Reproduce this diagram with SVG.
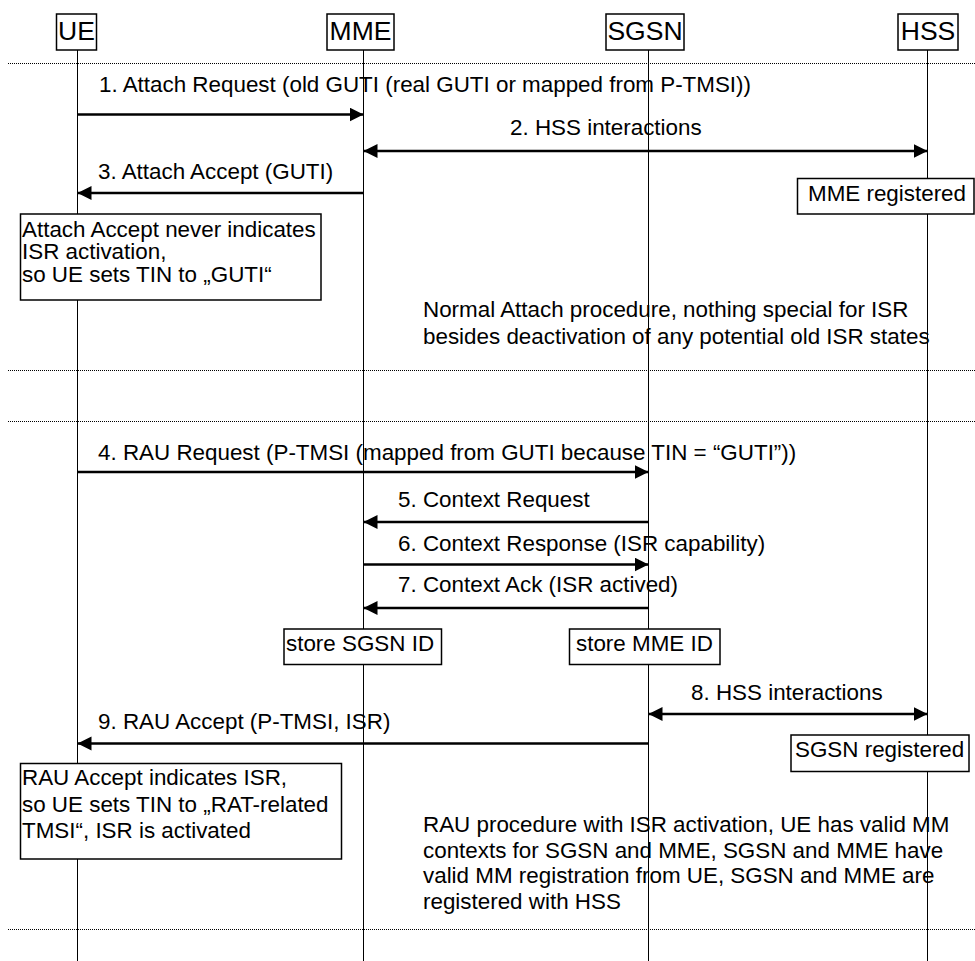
<svg xmlns="http://www.w3.org/2000/svg" width="975" height="961" viewBox="0 0 975 961">
<style>
text{font-family:"Liberation Sans",Arial,sans-serif;font-size:22.4px;fill:#000}
.hdr{font-size:26.5px;text-anchor:middle}
.box{fill:#fff;stroke:#000;stroke-width:1.5}
.life{stroke:#000;stroke-width:1}
.sep{stroke:#000;stroke-width:1;stroke-dasharray:1 1}
.msg{stroke:#000;stroke-width:2.5;fill:none}
</style>
<defs>
<marker id="ah" markerUnits="userSpaceOnUse" markerWidth="15" markerHeight="15" refX="14" refY="7" orient="auto-start-reverse" viewBox="0 0 15 15">
<path d="M0,0 L14,7 L0,14 Z" fill="#000"/>
</marker>
</defs>
<rect width="975" height="961" fill="#fff"/>
<g id="separators">
<line class="sep" x1="8" y1="63.5" x2="975" y2="63.5"/>
<line class="sep" x1="8" y1="370.5" x2="975" y2="370.5"/>
<line class="sep" x1="8" y1="421.5" x2="975" y2="421.5"/>
<line class="sep" x1="8" y1="929.5" x2="975" y2="929.5"/>
</g>
<g id="UE">
<line class="life" x1="77.5" y1="50" x2="77.5" y2="961"/>
<rect class="box" x="56.5" y="14" width="40" height="36"/>
<text class="hdr" x="76.5" y="40">UE</text>
</g>
<g id="MME">
<line class="life" x1="363.5" y1="50" x2="363.5" y2="961"/>
<rect class="box" x="327" y="14" width="67" height="36"/>
<text class="hdr" x="360.5" y="40">MME</text>
</g>
<g id="SGSN">
<line class="life" x1="648.5" y1="50" x2="648.5" y2="961"/>
<rect class="box" x="606" y="14" width="78" height="36"/>
<text class="hdr" x="645" y="40">SGSN</text>
</g>
<g id="HSS">
<line class="life" x1="927.5" y1="50" x2="927.5" y2="961"/>
<rect class="box" x="898" y="14" width="60" height="36"/>
<text class="hdr" x="928" y="40">HSS</text>
</g>
<g id="connectors">
<line class="msg" x1="77.5" y1="114.5" x2="363.5" y2="114.5" marker-end="url(#ah)"/>
<line class="msg" x1="363.5" y1="151" x2="927.5" y2="151" marker-start="url(#ah)" marker-end="url(#ah)"/>
<line class="msg" x1="363.5" y1="193" x2="77.5" y2="193" marker-end="url(#ah)"/>
<line class="msg" x1="77.5" y1="472" x2="648.5" y2="472" marker-end="url(#ah)"/>
<line class="msg" x1="648.5" y1="522" x2="363.5" y2="522" marker-end="url(#ah)"/>
<line class="msg" x1="363.5" y1="564.5" x2="648.5" y2="564.5" marker-end="url(#ah)"/>
<line class="msg" x1="648.5" y1="608" x2="363.5" y2="608" marker-end="url(#ah)"/>
<line class="msg" x1="648.5" y1="714" x2="927.5" y2="714" marker-start="url(#ah)" marker-end="url(#ah)"/>
<line class="msg" x1="648.5" y1="743.5" x2="77.5" y2="743.5" marker-end="url(#ah)"/>
</g>
<g id="labels">
<text x="99" y="91.5">1. Attach Request (old GUTI (real GUTI or mapped from P-TMSI))</text>
<text x="510" y="134.5">2. HSS interactions</text>
<text x="98" y="178.5">3. Attach Accept (GUTI)</text>
<text x="98" y="459.5">4. RAU Request (P-TMSI (mapped from GUTI because TIN = “GUTI”))</text>
<text x="398" y="506.5">5. Context Request</text>
<text x="398" y="550.5">6. Context Response (ISR capability)</text>
<text x="398" y="591.5">7. Context Ack (ISR actived)</text>
<text x="691" y="699.5">8. HSS interactions</text>
<text x="98" y="728.5">9. RAU Accept (P-TMSI, ISR)</text>
</g>
<g id="note-mme-registered">
<rect class="box" x="797.5" y="178.5" width="176.5" height="35.5"/>
<text x="808" y="200.5">MME registered</text>
</g>
<g id="note-attach-accept">
<rect class="box" x="20.5" y="214" width="300.5" height="86"/>
<text x="22" y="236.5">Attach Accept never indicates</text>
<text x="22" y="259">ISR activation,</text>
<text x="22" y="281.5">so UE sets TIN to „GUTI“</text>
</g>
<g id="note-normal-attach">
<text x="423" y="317">Normal Attach procedure, nothing special for ISR</text>
<text x="423" y="343.5">besides deactivation of any potential old ISR states</text>
</g>
<g id="note-store-sgsn">
<rect class="box" x="284" y="629" width="157.5" height="35.5"/>
<text x="286" y="650.5">store SGSN ID</text>
</g>
<g id="note-store-mme">
<rect class="box" x="569.5" y="629" width="150.5" height="35.5"/>
<text x="576" y="650.5">store MME ID</text>
</g>
<g id="note-sgsn-registered">
<rect class="box" x="791" y="735" width="178" height="36.5"/>
<text x="795" y="757">SGSN registered</text>
</g>
<g id="note-rau-accept">
<rect class="box" x="20.5" y="763.5" width="321" height="95.5"/>
<text x="22" y="785">RAU Accept indicates ISR,</text>
<text x="22" y="811.5">so UE sets TIN to „RAT-related</text>
<text x="22" y="838">TMSI“, ISR is activated</text>
</g>
<g id="note-rau-procedure">
<text x="423" y="831.5">RAU procedure with ISR activation, UE has valid MM</text>
<text x="423" y="857.5">contexts for SGSN and MME, SGSN and MME have</text>
<text x="423" y="883">valid MM registration from UE, SGSN and MME are</text>
<text x="423" y="908.5">registered with HSS</text>
</g>
</svg>
